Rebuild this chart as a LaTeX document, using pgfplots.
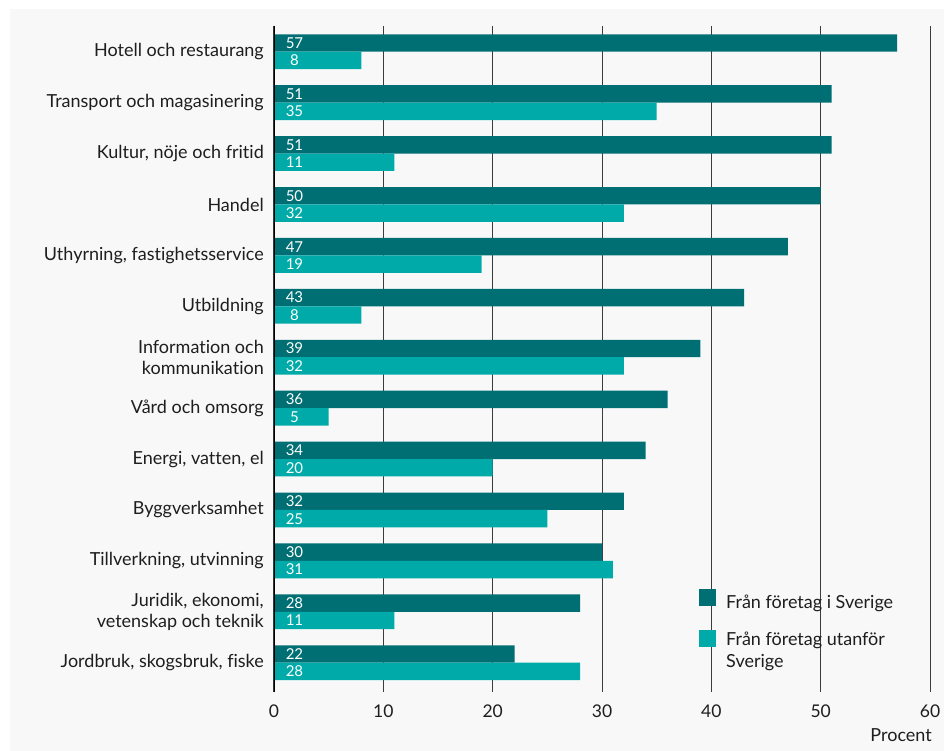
\documentclass[border=0pt]{standalone}
\usepackage{pgfplots}
\pgfplotsset{compat=1.18}
\usepackage{pgfplotstable}
\usepackage{fontspec}
\setmainfont{Lato}[RawFeature={-liga;-dlig;-calt}]
\definecolor{darkteal}{RGB}{0,111,116}
\definecolor{lightteal}{RGB}{0,170,168}
\definecolor{bggray}{RGB}{248,248,248}
\definecolor{gridgray}{RGB}{60,60,60}
\definecolor{txt}{RGB}{30,30,30}
\pgfplotsset{sqlegend/.style={legend image code/.code={\fill[##1] (0pt,#1-8.5pt) rectangle (17pt,#1+8.5pt);}}}
\pgfplotstableread{
pos sve utl
0 57 8
1 51 35
2 51 11
3 50 32
4 47 19
5 43 8
6 39 32
7 36 5
8 34 20
9 32 25
10 30 31
11 28 11
12 22 28
}\datatable
\begin{document}
\begin{tikzpicture}
\fill[white] (-274pt,-59.3pt) rectangle (670pt,691.7pt);
\fill[bggray] (-264pt,-59.3pt) rectangle (670pt,682.7pt);
\begin{axis}[
  at={(0pt,0pt)}, anchor=south west,
  scale only axis, width=656pt, height=665.7pt,
  xmin=0, xmax=60, ymin=-0.505, ymax=12.57,
  y dir=reverse,
  axis line style={draw=none},
  xtick={0,10,20,30,40,50,60},
  xmajorgrids, major grid style={draw=gridgray, line width=1pt},
  major tick length=0pt,
  ytick={0,...,12},
  yticklabels={{Hotell och restaurang},{Transport och magasinering},{Kultur, nöje och fritid},{Handel},{Uthyrning, fastighetsservice},{Utbildning},{Information och\\kommunikation},{Vård och omsorg},{Energi, vatten, el},{Byggverksamhet},{Tillverkning, utvinning},{Juridik, ekonomi,\\vetenskap och teknik},{Jordbruk, skogsbruk, fiske}},
  yticklabel style={font=\fontsize{18}{21.5}\selectfont, align=right, inner sep=0pt, xshift=-10pt, text=txt},
  xticklabel style={font=\fontsize{17.5}{20}\selectfont, inner sep=0pt, yshift=-13pt, text=txt},
  /pgf/number format/assume math mode=true,
  xlabel={Procent},
  xlabel style={at={(rel axis cs:1,0)}, anchor=north east, inner sep=0pt, xshift=2pt, yshift=-37pt, font=\fontsize{18}{20}\selectfont, text=txt},
  legend style={at={(axis cs:38.87,10.55)}, anchor=north west, draw=none, fill=none,
    font=\fontsize{18}{22}\selectfont, text=txt, row sep=18pt, column sep=8pt, inner sep=0pt,
    cells={anchor=west, align=left}},
  legend cell align=left,
]
\addplot[xbar, bar width=0.342, bar shift=-0.171, draw=none, fill=darkteal, sqlegend=4.5pt] table[x=sve, y=pos] {\datatable};
\addlegendentry{Från företag i Sverige}
\addplot[xbar, bar width=0.342, bar shift=0.171, draw=none, fill=lightteal, sqlegend=12pt] table[x=utl, y=pos] {\datatable};
\addlegendentry{Från företag utanför\\Sverige}
\draw[black, line width=1.2pt] (axis cs:0,-0.505) -- (axis cs:0,12.57);
\addplot[draw=none, mark=none, nodes near coords, point meta=explicit,
  every node near coord/.append style={anchor=center, text=white, font=\fontsize{15}{16}\selectfont},
  forget plot] table[x expr=1.875, y expr=\thisrow{pos}-0.171, meta=sve] {\datatable};
\addplot[draw=none, mark=none, nodes near coords, point meta=explicit,
  every node near coord/.append style={anchor=center, text=white, font=\fontsize{15}{16}\selectfont},
  forget plot] table[x expr=1.875, y expr=\thisrow{pos}+0.171, meta=utl] {\datatable};
\end{axis}
\end{tikzpicture}
\end{document}
